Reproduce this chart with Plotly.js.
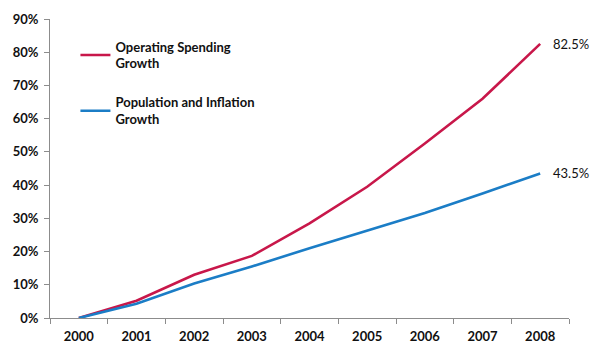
<!DOCTYPE html>
<html>
<head>
<meta charset="utf-8">
<script src="https://cdn.plot.ly/plotly-3.0.1.min.js"></script>
<style>html,body{margin:0;padding:0;background:#fff;}#chart{width:592px;height:345px;}</style>
</head>
<body>
<div id="chart"></div>
<script>
const years = ["2000","2001","2002","2003","2004","2005","2006","2007","2008"];
const operatingSpending = [0, 5.2, 13.0, 18.7, 28.5, 39.5, 52.5, 66.0, 82.5];
const populationInflation = [0, 4.3, 10.4, 15.5, 21.0, 26.3, 31.6, 37.5, 43.5];
const seriesNames = ["Operating Spending<br>Growth", "Population and Inflation<br>Growth"];
const yTicks = [0,10,20,30,40,50,60,70,80,90];
const yTickText = yTicks.map(v => v + "%");

const FONT = "Lato, 'Open Sans', sans-serif";
const red = "#C8174A";
const blue = "#1B7DC6";

const traces = [
  {x: years, y: operatingSpending, type: "scatter", mode: "lines", name: seriesNames[0],
   line: {color: red, width: 2.6}, legendgroup: "a", hoverinfo: "skip"},
  {x: years, y: populationInflation, type: "scatter", mode: "lines", name: seriesNames[1],
   line: {color: blue, width: 2.6}, legendgroup: "b", hoverinfo: "skip"}
];

const last = years.length - 1;
const labelFor = (arr) => ({
  x: last, y: arr[last], xref: "x", yref: "y",
  text: arr[last].toFixed(1) + "%", showarrow: false,
  xanchor: "left", yanchor: "middle", xshift: 11,
  font: {family: FONT, size: 13, color: "#111"}
});

const layout = {
  width: 592, height: 345,
  margin: {l: 50, r: 23, t: 19, b: 27},
  paper_bgcolor: "#fff", plot_bgcolor: "#fff",
  font: {family: FONT, size: 13, color: "#222"},
  showlegend: true,
  legend: {
    x: 0.049, y: 0.958, xanchor: "left", yanchor: "top",
    bgcolor: "rgba(0,0,0,0)", borderwidth: 0,
    font: {family: FONT, size: 13, color: "#111", weight: "bold"},
    tracegroupgap: 19, itemwidth: 30, traceorder: "grouped"
  },
  xaxis: {
    type: "category", range: [-0.5, 8.5],
    showgrid: false, zeroline: false,
    showline: true, linecolor: "#8c8c8c", linewidth: 1,
    ticks: "outside", tickson: "boundaries", ticklen: 5, tickcolor: "#8c8c8c",
    tickfont: {family: FONT, size: 13, color: "#111", weight: "bold"},
    ticklabelstandoff: 6
  },
  yaxis: {
    range: [0, 90], tickvals: yTicks, ticktext: yTickText,
    showgrid: false, zeroline: false,
    showline: true, linecolor: "#8c8c8c", linewidth: 1,
    ticks: "outside", ticklen: 5, tickcolor: "#8c8c8c",
    tickfont: {family: FONT, size: 13, color: "#111", weight: "bold"},
    ticklabelstandoff: 3
  },
  annotations: [labelFor(operatingSpending), labelFor(populationInflation)]
};

Plotly.newPlot("chart", traces, layout, {staticPlot: true, displayModeBar: false});
</script>
</body>
</html>
